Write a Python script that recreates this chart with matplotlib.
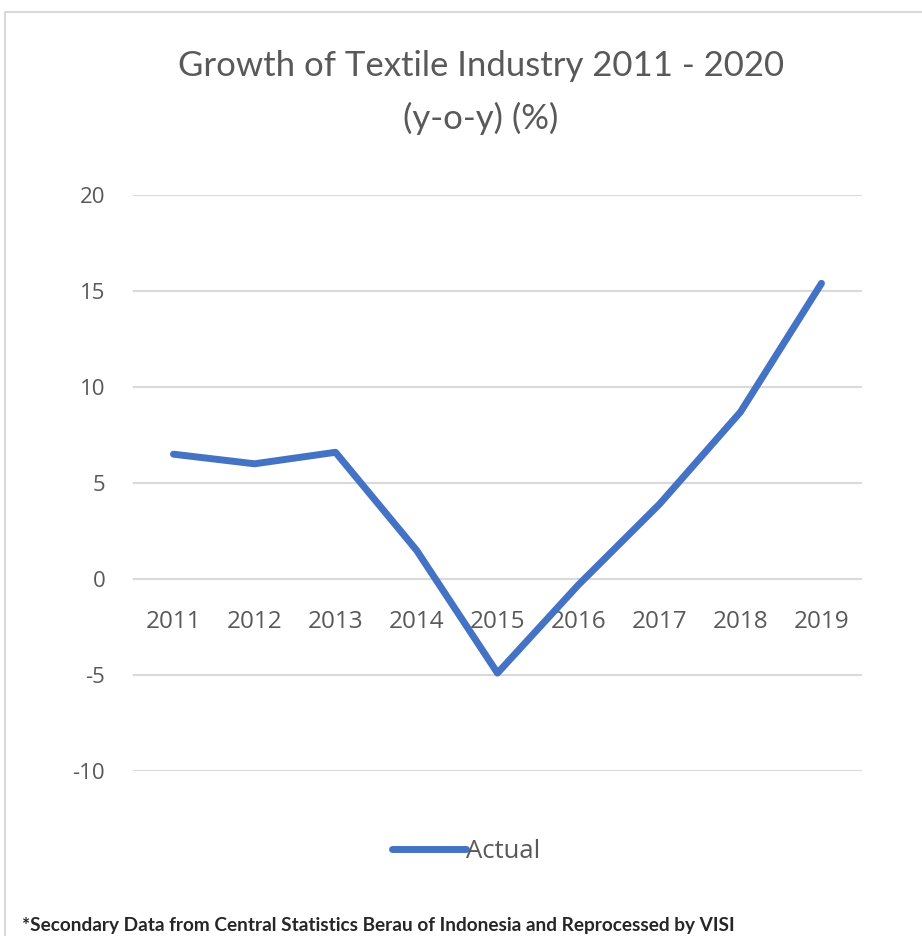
import numpy as np
import matplotlib
matplotlib.use('Agg')
import matplotlib.pyplot as plt
from matplotlib.patches import Rectangle

years = ['2011', '2012', '2013', '2014', '2015', '2016', '2017', '2018', '2019']
growth = [6.5, 6.0, 6.6, 1.5, -4.9, -0.3, 3.9, 8.7, 15.4]
y_ticks = [-10, -5, 0, 5, 10, 15, 20]

W, H = 922, 936
fig = plt.figure(figsize=(W / 100, H / 100), dpi=100, facecolor='w')

# chart border (right edge is cut off in the original)
fig.patches.append(Rectangle((5 / W, -0.01), 1.0, 1 - 12 / H + 0.01, transform=fig.transFigure,
                             fill=False, edgecolor='#d9d9d9', linewidth=1.5))

ax = fig.add_axes([133 / W, 1 - 771 / H, 729 / W, 576 / H])
x = np.arange(len(years))
ax.plot(x, growth, color='#4472C4', linewidth=5, solid_capstyle='round',
        solid_joinstyle='round', label='Actual', zorder=3)

ax.spines['bottom'].set_position(('data', 0))
for s in ax.spines.values():
    s.set_visible(False)
ax.set_xlim(-0.5, len(years) - 0.5)
ax.set_ylim(-10, 20)
ax.set_yticks(y_ticks)
ax.set_yticklabels([str(v) for v in y_ticks], family='Open Sans', fontsize=16, color='#595959')
ax.set_xticks(x)
ax.set_xticklabels(years, family='Open Sans', fontsize=17.5, color='#595959')
ax.tick_params(axis='x', length=0, pad=22)
ax.tick_params(axis='y', length=0, pad=20)
ax.grid(axis='y', color='#d9d9d9', linewidth=1.5)
ax.set_axisbelow(True)

fig.text(481 / W, 1 - 66 / H, 'Growth of Textile Industry 2011 - 2020', ha='center', va='center',
         family='Lato', fontsize=25, color='#595959')
fig.text(481 / W, 1 - 118 / H, '(y-o-y) (%)', ha='center', va='center',
         family='Lato', fontsize=25, color='#595959')

leg = fig.legend(loc='center', bbox_to_anchor=(466 / W, 1 - 851 / H), frameon=False,
                 handlelength=2.9, handletextpad=0.0, prop={'family': 'Open Sans', 'size': 18.5})
for t in leg.get_texts():
    t.set_color('#595959')

fig.text(22 / W, 1 - 925 / H, '*Secondary Data from Central Statistics Berau of Indonesia and Reprocessed by VISI',
         ha='left', va='center', family='Lato', fontweight='bold', fontsize=13.7, color='#262626')

fig.savefig('out.png', dpi=100)
